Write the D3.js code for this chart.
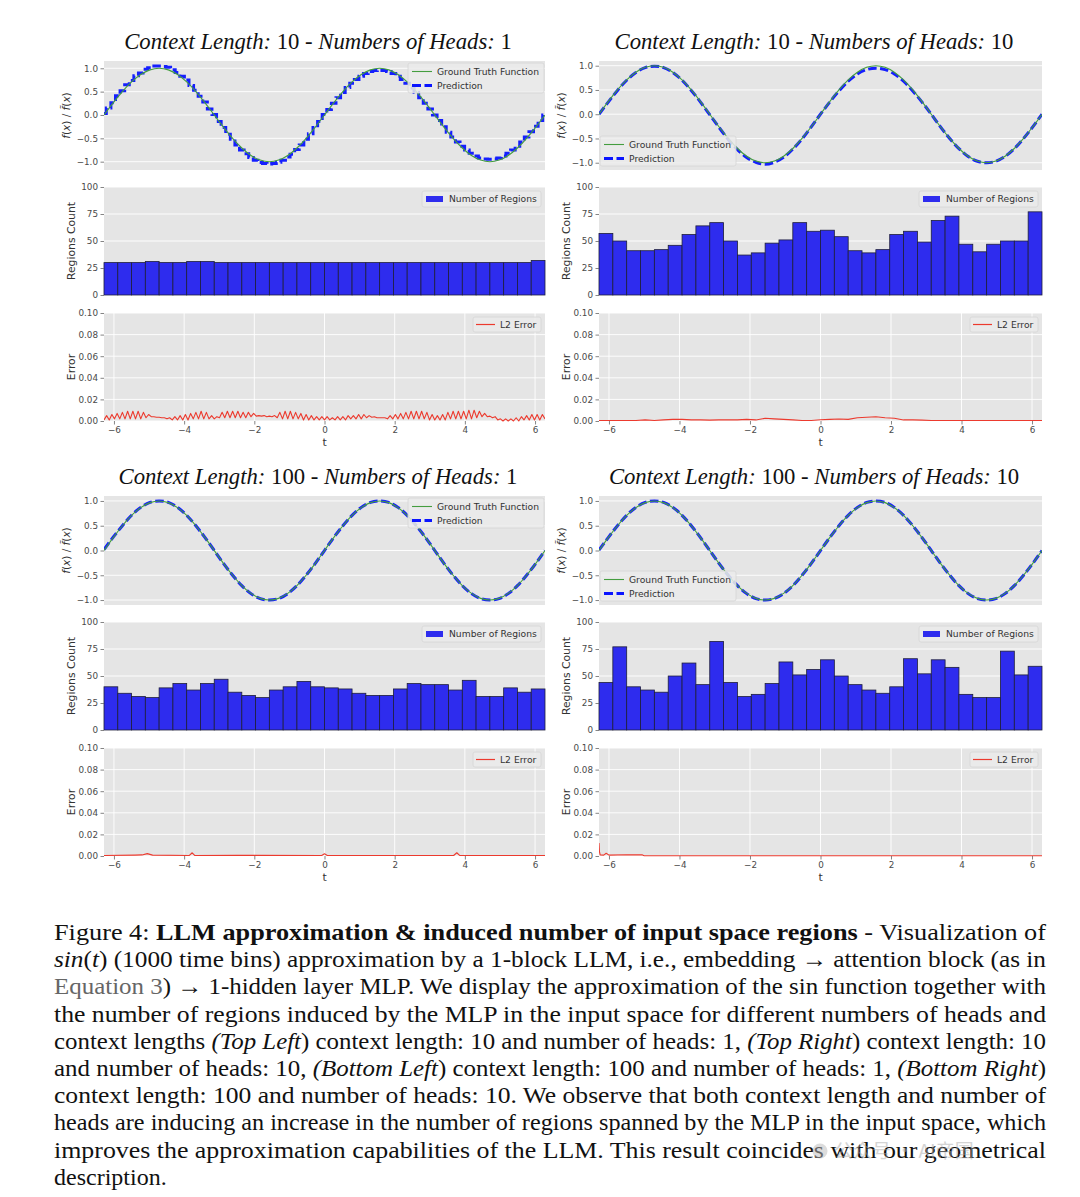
<!DOCTYPE html>
<html><head><meta charset="utf-8">
<script src="https://cdn.jsdelivr.net/npm/d3@7"></script>
<style>body{margin:0;background:#fff} svg{display:block}</style>
</head><body>
<script>
// ---------------- DATA ----------------
const contextLengths = [10, 10, 100, 100];
const numHeads = [1, 10, 1, 10];
const xTicks = [-6, -4, -2, 0, 2, 4, 6];
const sineTicks = [-1, -0.5, 0, 0.5, 1];
const regionTicks = [0, 25, 50, 75, 100];
const errorTicks = [0, 0.02, 0.04, 0.06, 0.08, 0.1];

// ground truth sin(t), sampled every pi/12 on [-2pi, 2pi]
const groundTruth = [0,.259,.5,.707,.866,.966,1,.966,.866,.707,.5,.259,0,
  -.259,-.5,-.707,-.866,-.966,-1,-.966,-.866,-.707,-.5,-.259,0,
  .259,.5,.707,.866,.966,1,.966,.866,.707,.5,.259,0,
  -.259,-.5,-.707,-.866,-.966,-1,-.966,-.866,-.707,-.5,-.259,0];

// prediction, context 10 / 1 head (sampled every pi/24, step-like)
const predTL = [.03,.15,.26,.41,.52,.65,.74,.84,.90,.98,1.01,1.05,1.05,
  1.04,1.02,.97,.91,.83,.75,.63,.53,.40,.28,.13,.01,
  -.14,-.27,-.41,-.52,-.64,-.75,-.83,-.91,-.97,-1.02,-1.04,-1.05,
  -1.04,-1.01,-.97,-.90,-.84,-.74,-.64,-.52,-.40,-.27,-.14,.01,
  .12,.25,.37,.48,.59,.68,.76,.83,.89,.93,.95,.96,
  .95,.93,.89,.83,.76,.68,.58,.48,.37,.25,.13,.00,
  -.12,-.25,-.37,-.47,-.58,-.67,-.75,-.82,-.88,-.92,-.94,-.95,
  -.94,-.92,-.88,-.82,-.75,-.67,-.58,-.47,-.36,-.24,-.12,.00];
// predictions sampled every pi/12
const predTR = [0,.25,.49,.70,.86,.96,.99,.96,.86,.70,.49,.25,-.01,
  -.27,-.52,-.73,-.89,-.99,-1.03,-.99,-.89,-.72,-.51,-.26,0,
  .25,.48,.68,.83,.92,.95,.92,.83,.68,.48,.25,0,
  -.26,-.50,-.71,-.87,-.97,-1.0,-.97,-.87,-.71,-.50,-.26,0];
const predBL = [.02,.27,.5,.71,.87,.97,1,.97,.87,.71,.5,.26,0,
  -.26,-.5,-.71,-.87,-.97,-1,-.97,-.87,-.71,-.5,-.26,0,
  .26,.5,.71,.87,.97,1,.97,.87,.71,.5,.26,0,
  -.26,-.5,-.71,-.87,-.97,-1,-.97,-.87,-.71,-.5,-.26,0];
const predBR = [.01,.26,.5,.71,.87,.97,1,.97,.87,.71,.5,.26,0,
  -.26,-.5,-.71,-.87,-.97,-1,-.97,-.87,-.71,-.5,-.26,0,
  .26,.5,.71,.87,.97,1,.97,.87,.71,.5,.26,0,
  -.26,-.5,-.71,-.87,-.97,-1,-.97,-.87,-.71,-.5,-.26,0];

// number of regions, 32 bins
const regionsTL = [30,30,30,31,30,30,31,31,30,30,30,30,30,30,30,30,30,30,30,30,30,30,30,30,30,30,30,30,30,30,30,32];
const regionsTR = [57,50,41,41,42,46,56,64,67,50,37,39,48,51,67,59,60,54,41,39,42,56,59,49,69,73,47,40,47,50,50,77];
const regionsBL = [40,34,31,30,39,43,37,43,47,35,32,30,37,40,45,40,39,38,34,32,32,38,43,42,42,37,46,31,31,39,35,38];
const regionsBR = [44,77,40,37,35,50,62,42,82,44,31,33,43,63,51,56,65,50,42,37,34,40,66,52,65,58,33,30,30,73,51,59];

// L2 error, context 10 / 1 head: sawtooth peaks (84) and troughs (85)
const errPeaksTL = [.005,.006,.007,.008,.009,.009,.009,.008,.006,.004,
  .0035,.003,.003,.004,.005,.006,.007,.008,.009,.008,
  .005,.004,.008,.009,.009,.009,.008,.008,.007,.005,
  .005,.0045,.005,.008,.009,.009,.008,.007,.006,.005,
  .004,.004,.004,.003,.004,.004,.005,.005,.006,.006,
  .005,.004,.003,.003,.005,.006,.007,.008,.009,.009,
  .009,.008,.006,.005,.006,.008,.009,.009,.009,.010,
  .010,.009,.007,.0045,.004,.002,.002,.002,.003,.004,
  .005,.006,.006,.006];
const errTroughsTL = [.001,.001,.002,.002,.002,.002,.002,.002,.003,.004,
  .0035,.003,.002,.001,.001,.001,.001,.002,.002,.002,
  .002,.002,.003,.003,.003,.003,.003,.003,.004,.0045,
  .0045,.004,.004,.003,.002,.002,.002,.002,.001,.001,
  .001,.001,.001,.001,.001,.001,.001,.002,.002,.002,
  .003,.0035,.003,.003,.002,.002,.002,.002,.002,.002,
  .002,.002,.001,.001,.001,.001,.002,.002,.002,.002,
  .002,.003,.004,.004,.003,.001,.000,.000,.000,.000,
  .001,.001,.001,.001,.002];
// L2 error, context 10 / 10 heads (every pi/12)
const errTR = [.0005,.0005,.0005,.0005,.0005,.001,.0005,.001,.0015,.0015,
  .001,.001,.0008,.001,.001,.001,.0015,.001,.0025,.002,
  .0015,.001,.0005,.0005,.0012,.0015,.0018,.0015,.003,.0035,
  .004,.003,.0025,.001,.001,.0008,.0005,.0004,.0004,.0004,
  .0004,.0004,.0004,.0004,.0004,.0004,.0004,.0004,.0004];
// L2 error, context 100 (t, value)
const errBLt = [-6.283,-5.4,-5.2,-5.05,-4.9,-3.85,-3.77,-3.7,-2.5,-0.08,0,0.08,3.68,3.77,3.85,6.283];
const errBLv = [.0005,.0008,.001,.0022,.0008,.0005,.003,.0005,.0006,.0005,.002,.0005,.0005,.003,.0005,.0005];
const errBRt = [-6.283,-6.27,-6.25,-6.15,-6.08,-6.0,-5.5,-5.05,-5.0,6.283];
const errBRv = [.012,.004,.001,.0008,.0025,.0008,.0012,.001,.0003,.0003];

// ---------------- LAYOUT ----------------
const TWO_PI = 2 * Math.PI;
const gridPts = (n) => d3.range(n).map(k => -TWO_PI + k * (2 * TWO_PI) / (n - 1));

const svg = d3.select("body").append("svg")
  .attr("width", 1080).attr("height", 1197)
  .style("font-family", "'DejaVu Sans', sans-serif");

const BLUE_BAR = "#2e2cee";
const GREEN = "#449d3f";
const PRED = "#0a14ff";
const RED = "#ec3a2e";
const BG = "#e5e5e5";
const TICK_FS = 8.8, LEG_FS = 9.2, LAB_FS = 10.8;

let clipId = 0;
function clip(g, x0, y0, x1, y1) {
  const id = "c" + (clipId++);
  g.append("clipPath").attr("id", id).append("rect")
    .attr("x", x0).attr("y", y0).attr("width", x1 - x0).attr("height", y1 - y0);
  return "url(#" + id + ")";
}

function yGrid(g, scale, ticks, x0, x1) {
  g.append("g").selectAll("line").data(ticks).join("line")
    .attr("x1", x0).attr("x2", x1)
    .attr("y1", d => scale(d)).attr("y2", d => scale(d))
    .attr("stroke", "#fff").attr("stroke-width", 0.9);
}
function yAxisLabels(g, scale, ticks, fmt, x0) {
  const ax = g.append("g").attr("transform", `translate(${x0},0)`)
    .call(d3.axisLeft(scale).tickValues(ticks).tickFormat(fmt).tickSize(3.5).tickPadding(2.5));
  ax.attr("font-family", "'DejaVu Sans', sans-serif").attr("font-size", TICK_FS);
  ax.select(".domain").remove();
  ax.selectAll("line").attr("stroke", "#666").attr("stroke-width", 0.8);
  ax.selectAll("text").attr("fill", "#4a4a4a");
}
function legendBox(g, x, y, w, h) {
  g.append("rect").attr("x", x).attr("y", y).attr("width", w).attr("height", h)
    .attr("rx", 2).attr("fill", "#ebebeb").attr("fill-opacity", 0.85)
    .attr("stroke", "#d6d6d6").attr("stroke-width", 0.8);
}
function legendText(g, x, y, s) {
  g.append("text").attr("x", x).attr("y", y).attr("dy", "0.35em")
    .attr("font-size", LEG_FS).attr("fill", "#333").text(s);
}

const panels = [
  { x0: 104, x1: 545, dy: 0, sineDom: [-1.178, 1.156], legend: "ur",
    pred: predTL, predCurve: d3.curveStep, regions: regionsTL, err: "TL" },
  { x0: 599, x1: 1042, dy: 0, sineDom: [-1.15, 1.097], legend: "ll",
    pred: predTR, predCurve: d3.curveNatural, regions: regionsTR, err: "TR" },
  { x0: 104, x1: 545, dy: 435, sineDom: [-1.10, 1.10], legend: "ur",
    pred: predBL, predCurve: d3.curveNatural, regions: regionsBL, err: "BL" },
  { x0: 599, x1: 1042, dy: 435, sineDom: [-1.10, 1.10], legend: "ll",
    pred: predBR, predCurve: d3.curveNatural, regions: regionsBR, err: "BR" }
];

panels.forEach((p, pi) => {
  const g = svg.append("g");
  const { x0, x1, dy } = p;
  const x = d3.scaleLinear().domain([-TWO_PI, TWO_PI]).range([x0, x1]);

  // ---- title ----
  const tt = g.append("text").attr("x", (x0 + x1) / 2 - 6.5).attr("y", 49 + dy)
    .attr("text-anchor", "middle").attr("font-family", "'Liberation Serif', 'Times New Roman', serif")
    .attr("font-size", 22.7).attr("fill", "#111");
  tt.append("tspan").attr("font-style", "italic").text("Context Length:");
  tt.append("tspan").text(" " + contextLengths[pi] + " - ");
  tt.append("tspan").attr("font-style", "italic").text("Numbers of Heads:");
  tt.append("tspan").text(" " + numHeads[pi]);

  // ---- sine panel ----
  const sy0 = 61 + dy, sy1 = 170 + dy;
  const ys = d3.scaleLinear().domain(p.sineDom).range([sy1, sy0]);
  g.append("rect").attr("x", x0).attr("y", sy0).attr("width", x1 - x0).attr("height", sy1 - sy0).attr("fill", BG);
  yGrid(g, ys, sineTicks, x0, x1);
  const cs = clip(g, x0, sy0, x1, sy1);
  const gtPts = gridPts(groundTruth.length);
  const prPts = gridPts(p.pred.length);
  g.append("path").attr("clip-path", cs)
    .attr("d", d3.line().x((d, i) => x(prPts[i])).y(d => ys(d)).curve(p.predCurve)(p.pred))
    .attr("fill", "none").attr("stroke", PRED).attr("stroke-width", 3)
    .attr("stroke-dasharray", "8.5,3.5").attr("stroke-opacity", 0.95);
  g.append("path").attr("clip-path", cs)
    .attr("d", d3.line().x((d, i) => x(gtPts[i])).y(d => ys(d)).curve(d3.curveNatural)(groundTruth))
    .attr("fill", "none").attr("stroke", GREEN).attr("stroke-width", 1.1);
  yAxisLabels(g, ys, sineTicks, d3.format(".1f"), x0);
  // y label
  const yl = g.append("text").attr("transform", `translate(${x0 - 38},${(sy0 + sy1) / 2}) rotate(-90)`)
    .attr("text-anchor", "middle").attr("dy", "0.35em").attr("font-size", 10.5).attr("fill", "#333");
  yl.append("tspan").attr("font-style", "italic").text("f");
  yl.append("tspan").text("(");
  yl.append("tspan").attr("font-style", "italic").text("x");
  yl.append("tspan").text(") / ");
  yl.append("tspan").attr("font-style", "italic").text("f\u0303");
  yl.append("tspan").text("(");
  yl.append("tspan").attr("font-style", "italic").text("x");
  yl.append("tspan").text(")");
  // legend
  let bx, by;
  if (p.legend === "ur") { bx = x1 - 137; by = sy0 + 2; } else { bx = x0 + 1; by = sy1 - 34; }
  legendBox(g, bx, by, 136, 30);
  g.append("line").attr("x1", bx + 4).attr("x2", bx + 24).attr("y1", by + 8.5).attr("y2", by + 8.5)
    .attr("stroke", GREEN).attr("stroke-width", 1.1);
  g.append("line").attr("x1", bx + 4).attr("x2", bx + 24).attr("y1", by + 22.5).attr("y2", by + 22.5)
    .attr("stroke", PRED).attr("stroke-width", 3).attr("stroke-dasharray", "9,3.5");
  legendText(g, bx + 29, by + 8.5, "Ground Truth Function");
  legendText(g, bx + 29, by + 22.5, "Prediction");

  // ---- bars panel ----
  const by0 = 187 + dy, by1 = 295 + dy;
  const yb = d3.scaleLinear().domain([0, 100]).range([by1, by0]);
  const xb = d3.scaleBand().domain(d3.range(p.regions.length)).range([x0, x1]).padding(0);
  g.append("rect").attr("x", x0).attr("y", by0).attr("width", x1 - x0).attr("height", by1 - by0).attr("fill", BG);
  yGrid(g, yb, regionTicks, x0, x1);
  g.append("g").selectAll("rect").data(p.regions).join("rect")
    .attr("x", (d, i) => xb(i)).attr("width", xb.bandwidth())
    .attr("y", d => yb(d)).attr("height", d => yb(0) - yb(d))
    .attr("fill", BLUE_BAR).attr("stroke", "#1e1e3a").attr("stroke-width", 0.8);
  yAxisLabels(g, yb, regionTicks, d3.format("d"), x0);
  g.append("text").attr("transform", `translate(${x0 - 33},${(by0 + by1) / 2}) rotate(-90)`)
    .attr("text-anchor", "middle").attr("dy", "0.35em").attr("font-size", LAB_FS).attr("fill", "#333")
    .text("Regions Count");
  const lbx = x1 - 123, lby = by0 + 4;
  legendBox(g, lbx, lby, 119, 16);
  g.append("rect").attr("x", lbx + 4).attr("y", lby + 5).attr("width", 17).attr("height", 6).attr("fill", BLUE_BAR);
  legendText(g, lbx + 27, lby + 8, "Number of Regions");

  // ---- error panel ----
  const ey0 = 313 + dy, ey1 = 421 + dy;
  const ye = d3.scaleLinear().domain([0, 0.1]).range([ey1, ey0]);
  g.append("rect").attr("x", x0).attr("y", ey0).attr("width", x1 - x0).attr("height", ey1 - ey0).attr("fill", BG);
  yGrid(g, ye, errorTicks, x0, x1);
  g.append("g").selectAll("line").data(xTicks).join("line")
    .attr("x1", d => x(d)).attr("x2", d => x(d)).attr("y1", ey0).attr("y2", ey1)
    .attr("stroke", "#fff").attr("stroke-width", 0.9);
  let errPts;
  if (p.err === "TL") {
    const n = errTroughsTL.length; // 85 boundaries
    const step = (2 * TWO_PI) / (n - 1);
    errPts = [];
    errTroughsTL.forEach((v, j) => {
      errPts.push([-TWO_PI + j * step, v]);
      if (j < errPeaksTL.length) errPts.push([-TWO_PI + (j + 0.5) * step, errPeaksTL[j]]);
    });
  } else if (p.err === "TR") {
    const tp = gridPts(errTR.length);
    errPts = errTR.map((v, i) => [tp[i], v]);
  } else if (p.err === "BL") {
    errPts = errBLv.map((v, i) => [errBLt[i], v]);
  } else {
    errPts = errBRv.map((v, i) => [errBRt[i], v]);
  }
  const ce = clip(g, x0, ey0 - 2, x1, ey1 + 2);
  g.append("path").attr("clip-path", ce)
    .attr("d", d3.line().x(d => x(d[0])).y(d => ye(d[1]))(errPts))
    .attr("fill", "none").attr("stroke", RED).attr("stroke-width", 1.1).attr("stroke-linejoin", "round");
  yAxisLabels(g, ye, errorTicks, d3.format(".2f"), x0);
  const xa = g.append("g").attr("transform", `translate(0,${ey1})`)
    .call(d3.axisBottom(x).tickValues(xTicks).tickFormat(d3.format("d")).tickSize(3.5).tickPadding(2));
  xa.attr("font-family", "'DejaVu Sans', sans-serif").attr("font-size", TICK_FS);
  xa.select(".domain").remove();
  xa.selectAll("line").attr("stroke", "#666").attr("stroke-width", 0.8);
  xa.selectAll("text").attr("fill", "#4a4a4a");
  g.append("text").attr("x", (x0 + x1) / 2).attr("y", 446 + dy).attr("text-anchor", "middle")
    .attr("font-size", LAB_FS).attr("fill", "#333").text("t");
  g.append("text").attr("transform", `translate(${x0 - 33},${(ey0 + ey1) / 2}) rotate(-90)`)
    .attr("text-anchor", "middle").attr("dy", "0.35em").attr("font-size", LAB_FS).attr("fill", "#333")
    .text("Error");
  const ebx = x1 - 72, eby = ey0 + 4;
  legendBox(g, ebx, eby, 68, 15);
  g.append("line").attr("x1", ebx + 3).attr("x2", ebx + 22).attr("y1", eby + 7.5).attr("y2", eby + 7.5)
    .attr("stroke", RED).attr("stroke-width", 1.2);
  legendText(g, ebx + 27, eby + 7.5, "L2 Error");
});

// ---------------- CAPTION ----------------
const captionLines = [
  [["Figure 4: ", ""], ["LLM approximation & induced number of input space regions", "b"], [" - Visualization of", ""]],
  [["sin", "i"], ["(", ""], ["t", "i"], [")", ""], [" (1000 time bins) approximation by a 1-block LLM, i.e., embedding \u2192 attention block (as in", ""]],
  [["Equation 3", "g"], [") \u2192 1-hidden layer MLP. We display the approximation of the sin function together with", ""]],
  [["the number of regions induced by the MLP in the input space for different numbers of heads and", ""]],
  [["context lengths ", ""], ["(Top Left", "i"], [") context length: 10 and number of heads: 1, ", ""], ["(Top Right", "i"], [") context length: 10", ""]],
  [["and number of heads: 10, ", ""], ["(Bottom Left", "i"], [") context length: 100 and number of heads: 1, ", ""], ["(Bottom Right", "i"], [")", ""]],
  [["context length: 100 and number of heads: 10. We observe that both context length and number of", ""]],
  [["heads are inducing an increase in the number of regions spanned by the MLP in the input space, which", ""]],
  [["improves the approximation capabilities of the LLM. This result coincides with our geometrical", ""]],
  [["description.", ""]]
];
const cap = svg.append("g").attr("font-family", "'Liberation Serif', 'Times New Roman', serif")
  .attr("font-size", 24).attr("fill", "#111");
captionLines.forEach((segs, li) => {
  const t = cap.append("text").attr("x", 54).attr("y", 940 + li * 27.2);
  if (li < captionLines.length - 1) t.attr("textLength", 992).attr("lengthAdjust", "spacingAndGlyphs");
  segs.forEach(([s, st]) => {
    const ts = t.append("tspan").text(s);
    if (st === "b") ts.attr("font-weight", "bold");
    if (st === "i") ts.attr("font-style", "italic");
    if (st === "g") ts.attr("fill", "#666");
  });
});
// watermark (semi-transparent, overlapping the caption as in the source image)
const wm = svg.append("g").attr("opacity", 0.5);
wm.append("circle").attr("cx", 820).attr("cy", 1151).attr("r", 7.5).attr("fill", "#bbb");
wm.append("text").attr("x", 834).attr("y", 1158).attr("font-family", "'Noto Sans CJK SC', sans-serif")
  .attr("font-size", 19).attr("fill", "#aaa").text("公众号 · AI帝国");
</script>
</body></html>
